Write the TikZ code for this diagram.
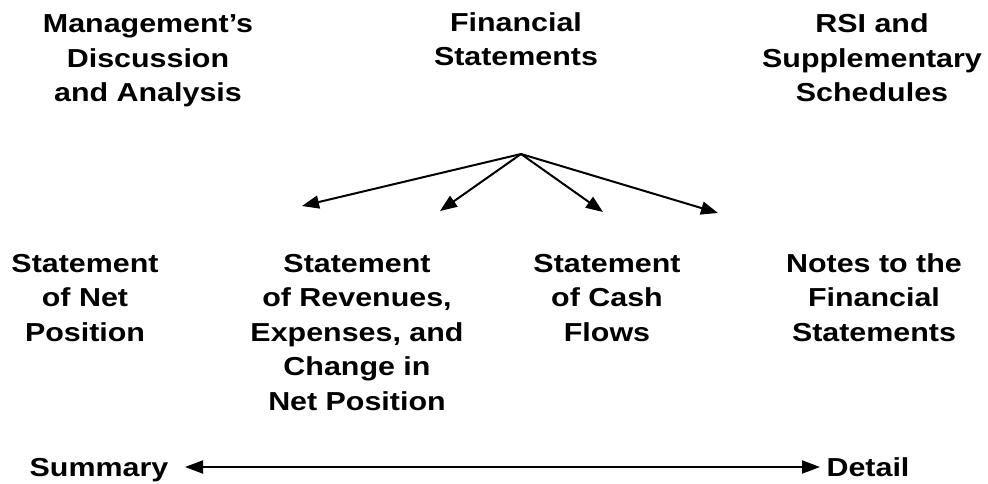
\documentclass[tikz,border=0pt]{standalone}
\usepackage{fontspec}
\setmainfont{Liberation Sans}[FakeStretch=1.17]
\usetikzlibrary{arrows.meta}
\begin{document}
\begin{tikzpicture}[x=1pt,y=-1pt,
  lbl/.style={align=center,anchor=base,inner sep=0pt,font=\fontsize{26}{34.5}\selectfont\bfseries},
  fan/.style={line width=2pt,-{Triangle[length=17pt,width=13pt]}},
  rangearrow/.style={line width=2pt,{Triangle[length=18pt,width=13pt]}-{Triangle[length=18pt,width=13pt]}}]
\useasboundingbox (0,0) rectangle (988,484);
\node[lbl] (mda) at (148,102) {Management’s\\Discussion\\and Analysis};
\node[lbl] (fs) at (516,66) {Financial\\Statements};
\node[lbl] (rsi) at (872,102) {RSI and\\Supplementary\\Schedules};
\node[lbl] (snp) at (85,341) {Statement\\of Net\\Position};
\node[lbl] (sre) at (357,410) {Statement\\of Revenues,\\Expenses, and\\Change in\\Net Position};
\node[lbl] (scf) at (607,341) {Statement\\of Cash\\Flows};
\node[lbl] (nts) at (874,341) {Notes to the\\Financial\\Statements};
\node[lbl] (sum) at (99,476) {Summary};
\node[lbl] (det) at (868,476) {Detail};
\coordinate (hub) at (521,154);
\coordinate (t1) at (302,206);
\coordinate (t2) at (440,211);
\coordinate (t3) at (603,212);
\coordinate (t4) at (718,213);
\draw[fan] (hub) -- (t1);
\draw[fan] (hub) -- (t2);
\draw[fan] (hub) -- (t3);
\draw[fan] (hub) -- (t4);
\coordinate (sl) at (185,467);
\coordinate (dr) at (820,467);
\draw[rangearrow] (sl) -- (dr);
\end{tikzpicture}
\end{document}
